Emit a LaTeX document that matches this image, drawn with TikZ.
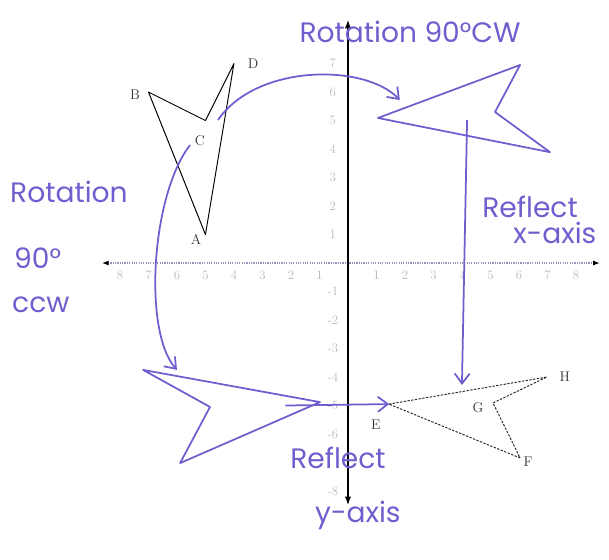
\documentclass[tikz,border=0pt]{standalone}
\usepackage{fontspec}
\newfontfamily\handfont{Poppins}
\usetikzlibrary{arrows.meta}
\definecolor{ink}{RGB}{112,94,206}
\definecolor{axisgray}{RGB}{150,145,185}
\tikzset{
  hand/.style={
    font=\handfont\fontsize{24}{26}\selectfont,
    text=ink,
    inner sep=0pt
  },
  tick/.style={
    font=\fontsize{11}{11}\selectfont,
    text=gray!55,
    inner sep=1pt
  },
  vlabel/.style={
    font=\fontsize{12}{12}\selectfont,
    text=black!80,
    inner sep=0pt
  },
  origfig/.style={draw=black, line width=0.8pt, line join=round},
  dashfig/.style={draw=black!85, line width=0.8pt, line join=round, dash pattern=on 2pt off 1.2pt},
  imgfig/.style={draw=ink, line width=1.5pt, line join=round},
  move/.style={draw=ink, line width=1.5pt, -{Straight Barb[length=3mm,width=4.5mm]}}
}
\begin{document}
\begin{tikzpicture}[x=0.855cm, y=0.855cm]
  \useasboundingbox (-12.21,-10.39) rectangle (9.16,9.23);

  % axes
  \draw[axisgray, densely dotted, line width=1pt, {Latex[black,length=2mm]}-{Latex[black,length=2mm]}] (-8.63,0) -- (8.84,0);
  \draw[black, line width=1pt, {Latex[length=2.5mm]}-{Latex[length=2.5mm]}] (0,-8.49) -- (0,8.53);
  \foreach \n in {1,...,8} {
    \node[tick] (xr\n) at (\n,-0.42) {\n};
    \node[tick] (xl\n) at (-\n,-0.42) {\n};
  }
  \foreach \n in {1,...,7}
    \node[tick] (yu\n) at (-0.53,\n) {\n};
  \foreach \n in {1,...,6,8}
    \node[tick] (yd\n) at (-0.53,-\n) {-\n};

  % ABCD
  \coordinate (A) at (-5,1);
  \coordinate (B) at (-7,6);
  \coordinate (C) at (-5,5);
  \coordinate (D) at (-4,7);
  \draw[origfig] (A) -- (B) -- (C) -- (D) -- cycle;
  \node[vlabel] (labA) at (-5.33,0.81) {A};
  \node[vlabel] (labB) at (-7.47,5.9) {B};
  \node[vlabel] (labC) at (-5.2,4.3) {C};
  \node[vlabel] (labD) at (-3.33,7.0) {D};

  % EFGH
  \coordinate (E) at (1.44,-4.95);
  \coordinate (F) at (6.04,-6.84);
  \coordinate (G) at (5.09,-4.91);
  \coordinate (H) at (6.98,-4.0);
  \draw[dashfig] (E) -- (H) -- (G) -- (F) -- cycle;
  \node[vlabel] (labE) at (0.98,-5.68) {E};
  \node[vlabel] (labF) at (6.32,-6.98) {F};
  \node[vlabel] (labG) at (4.56,-5.09) {G};
  \node[vlabel] (labH) at (7.61,-4.0) {H};

  % hand drawn images
  \coordinate (cwA) at (1.05,5.09);
  \coordinate (cwB) at (6.04,6.95);
  \coordinate (cwC) at (5.16,5.30);
  \coordinate (cwD) at (7.09,3.89);
  \draw[imgfig] (cwA) -- (cwB) -- (cwC) -- (cwD) -- cycle;

  \coordinate (ccwA) at (-0.98,-4.88);
  \coordinate (ccwB) at (-5.89,-7.02);
  \coordinate (ccwC) at (-4.84,-5.05);
  \coordinate (ccwD) at (-7.19,-3.75);
  \draw[imgfig] (ccwA) -- (ccwB) -- (ccwC) -- (ccwD) -- cycle;

  % arrows
  \coordinate (s1) at (-4.56,5.02);
  \coordinate (e1) at (1.82,5.72);
  \coordinate (s2) at (-5.54,4.14);
  \coordinate (e2) at (-6.0,-3.75);
  \coordinate (s3) at (-2.2,-5.0);
  \coordinate (e3) at (1.45,-4.95);
  \coordinate (s4) at (4.18,5.02);
  \coordinate (e4) at (4.0,-4.28);
  \draw[move] (s1) .. controls (-3.2,7.0) and (0.6,7.0) .. (e1);
  \draw[move] (s2) .. controls (-6.9,2.4) and (-7.2,-2.4) .. (e2);
  \draw[move] (s3) -- (e3);
  \draw[move] (s4) -- (e4);

  % labels
  \node[hand] (cwtext) at (2.18,8.1) {Rotation 90°CW};
  \node[hand, anchor=west] (ccwtext1) at (-11.86,2.49) {Rotation};
  \node[hand, anchor=west] (ccwtext2) at (-11.72,0.18) {90°};
  \node[hand, anchor=west] (ccwtext3) at (-11.79,-1.47) {ccw};
  \node[hand] (xtext1) at (6.39,1.96) {Reflect};
  \node[hand] (xtext2) at (7.26,1.05) {x-axis};
  \node[hand] (ytext1) at (-0.35,-6.84) {Reflect};
  \node[hand] (ytext2) at (0.35,-8.84) {y-axis};
\end{tikzpicture}
\end{document}
